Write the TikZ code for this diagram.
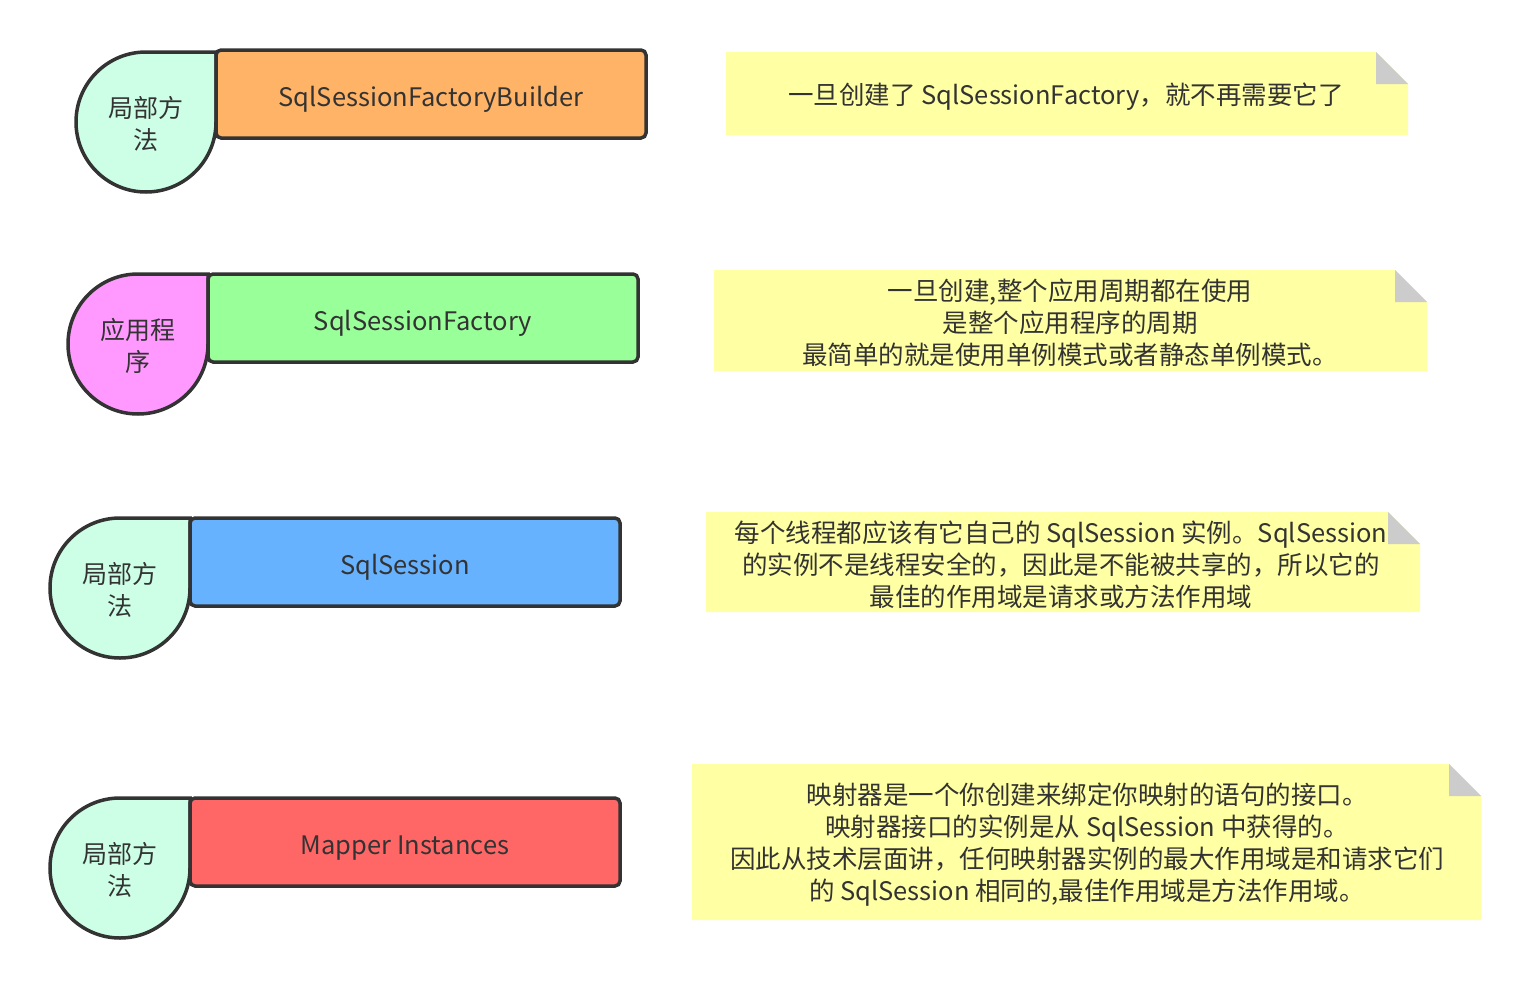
\documentclass[tikz,border=0pt]{standalone}
\usepackage{fontspec}
\setmainfont{Noto Sans CJK SC}
\definecolor{edge}{HTML}{333333}
\definecolor{mint}{HTML}{CCFFE6}
\definecolor{pinkdrop}{HTML}{FF99FF}
\definecolor{orangebox}{HTML}{FFB366}
\definecolor{greenbox}{HTML}{99FF99}
\definecolor{bluebox}{HTML}{66B2FF}
\definecolor{redbox}{HTML}{FF6666}
\definecolor{noteyellow}{HTML}{FFFFA3}
\definecolor{notefold}{HTML}{CCCCCC}

\begin{document}
\begin{tikzpicture}[x=1pt,y=-1pt,
  drop/.style={draw=edge, line width=3.5pt},
  droptext/.style={align=center, text=edge, font=\fontsize{25}{32}\selectfont},
  box/.style={draw=edge, line width=3.5pt, rounded corners=5pt, minimum width=430pt, minimum height=88pt, text height=30pt, text depth=6pt, text=edge, font=\fontsize{25.5}{32}\selectfont},
  notetext/.style={align=center, text=edge, font=\fontsize{25.5}{32}\selectfont}]
\useasboundingbox (0,0) rectangle (1532,988);
\draw[drop, fill=mint] (216,52) -- (216,122) arc[start angle=0, end angle=270, radius=70] -- cycle;
\draw[drop, fill=pinkdrop] (208,274) -- (208,344) arc[start angle=0, end angle=270, radius=70] -- cycle;
\draw[drop, fill=mint] (190,518) -- (190,588) arc[start angle=0, end angle=270, radius=70] -- cycle;
\draw[drop, fill=mint] (190,798) -- (190,868) arc[start angle=0, end angle=270, radius=70] -- cycle;
\node[droptext] (scope1) at (146,124) {局部方\\法};
\node[droptext] (scope2) at (138,346) {应用程\\序};
\node[droptext] (scope3) at (120,590) {局部方\\法};
\node[droptext] (scope4) at (120,870) {局部方\\法};
\node[box, fill=orangebox] (builder) at (431,94) {SqlSessionFactoryBuilder};
\node[box, fill=greenbox] (factory) at (423,318) {SqlSessionFactory};
\node[box, fill=bluebox] (session) at (405,562) {SqlSession};
\node[box, fill=redbox] (mapper) at (405,842) {Mapper Instances};
\fill[noteyellow] (726,52) -- (1376,52) -- (1408,84) -- (1408,135) -- (726,135) -- cycle;
\fill[notefold] (1376,52) -- (1376,84) -- (1408,84) -- cycle;
\fill[noteyellow] (714,270) -- (1395,270) -- (1427,302) -- (1427,371) -- (714,371) -- cycle;
\fill[notefold] (1395,270) -- (1395,302) -- (1427,302) -- cycle;
\fill[noteyellow] (706,512) -- (1388,512) -- (1420,544) -- (1420,612) -- (706,612) -- cycle;
\fill[notefold] (1388,512) -- (1388,544) -- (1420,544) -- cycle;
\fill[noteyellow] (692,764) -- (1449,764) -- (1481,796) -- (1481,920) -- (692,920) -- cycle;
\fill[notefold] (1449,764) -- (1449,796) -- (1481,796) -- cycle;
\node[notetext] (builder note) at (1066,97) {一旦创建了 SqlSessionFactory，就不再需要它了};
\node[notetext] (factory note) at (1070,323) {一旦创建,整个应用周期都在使用\\是整个应用程序的周期\\最简单的就是使用单例模式或者静态单例模式。};
\node[notetext] (session note) at (1061,565) {每个线程都应该有它自己的 SqlSession 实例。SqlSession\\的实例不是线程安全的，因此是不能被共享的，所以它的\\最佳的作用域是请求或方法作用域};
\node[notetext] (mapper note) at (1087,845) {映射器是一个你创建来绑定你映射的语句的接口。\\映射器接口的实例是从 SqlSession 中获得的。\\因此从技术层面讲，任何映射器实例的最大作用域是和请求它们\\的 SqlSession 相同的,最佳作用域是方法作用域。};
\end{tikzpicture}
\end{document}
